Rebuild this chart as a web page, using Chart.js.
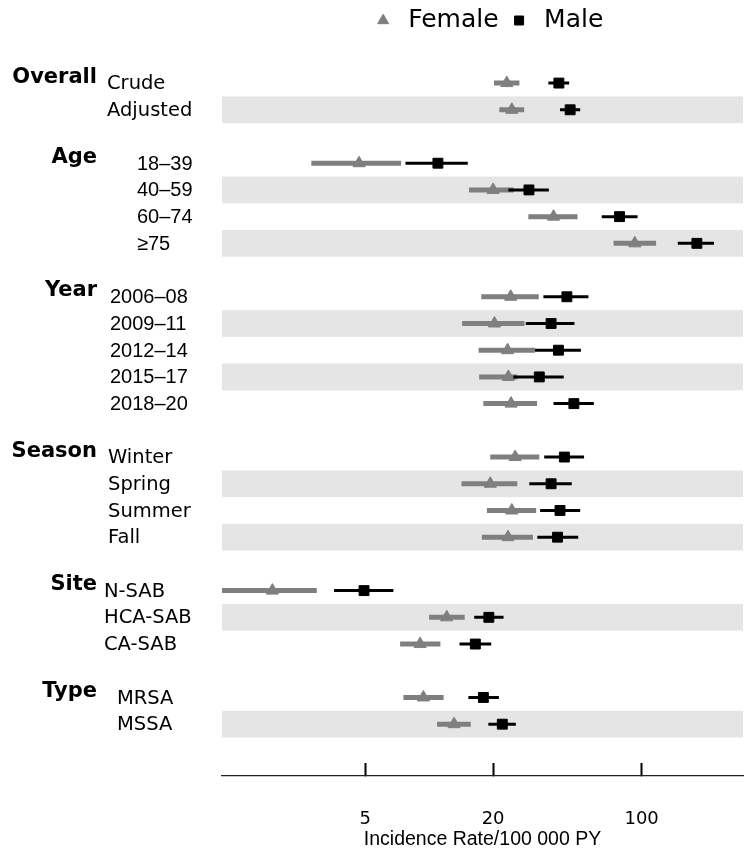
<!DOCTYPE html>
<html>
<head>
<meta charset="utf-8">
<script src="https://cdn.jsdelivr.net/npm/chart.js@4.4.1/dist/chart.umd.min.js"></script>
<style>
  html, body { margin: 0; padding: 0; background: #fff; }
  #wrap { width: 755px; height: 856px; }
</style>
</head>
<body>
<div id="wrap"><canvas id="forestChart" width="755" height="856"></canvas></div>
<script>
// --- DATA ---
const groupNames = ['Overall', 'Age', 'Year', 'Season', 'Site', 'Type'];
const rowLabels = ['Crude', 'Adjusted',
    '18–39', '40–59', '60–74', '≥75',
    '2006–08', '2009–11', '2012–14', '2015–17', '2018–20',
    'Winter', 'Spring', 'Summer', 'Fall',
    'N-SAB', 'HCA-SAB', 'CA-SAB',
    'MRSA', 'MSSA'];
const rowGroups = [0, 0, 1, 1, 1, 1, 2, 2, 2, 2, 2, 3, 3, 3, 3, 4, 4, 4, 5, 5];

// Incidence rate per 100 000 PY
const femaleRate = [23.2, 24.5, 4.68, 20.0, 38.5, 92.9, 24.2, 20.3, 23.4, 23.6, 24.3, 25.4, 19.4, 24.5, 23.5, 1.83, 12.1, 9.07, 9.40, 13.1];
const femaleLow  = [20.2, 21.4, 2.79, 15.4, 29.3, 73.8, 17.6, 14.3, 17.1, 17.2, 18.0, 19.4, 14.2, 18.7, 17.7, 1.00, 10.0, 7.30, 7.57, 10.9];
const femaleHigh = [26.6, 28.0, 7.38, 25.0, 49.9, 117,  32.8, 28.1, 31.5, 26.0, 32.2, 33.0, 26.0, 31.9, 30.8, 2.96, 14.7, 11.3, 11.7, 15.7];

const maleRate = [40.8, 46.1, 11.0, 29.5, 78.7, 182, 44.5, 37.5, 40.6, 33.0, 48.0, 43.3, 37.5, 41.3, 40.2, 4.94, 19.1, 16.5, 18.0, 22.1];
const maleLow  = [36.4, 41.3, 7.74, 23.6, 64.9, 148, 34.5, 28.5, 31.5, 24.9, 38.5, 34.8, 29.6, 33.3, 32.3, 3.57, 16.3, 13.9, 15.3, 19.0];
const maleHigh = [45.6, 51.4, 15.2, 36.6, 95.7, 219, 56.2, 48.3, 51.8, 43.0, 59.6, 53.6, 46.9, 51.4, 50.3, 6.79, 22.4, 19.6, 21.3, 25.6];

const xTickValues = [5, 20, 100];

// --- STYLE ---
const GREY = '#7f7f7f';
const BAND = '#e5e5e5';
const groupLabelRight = 97;
const rowLabelLeft = [107, 137, 110, 108, 104, 117];
const rowLabelFont = ['DejaVu Sans', 'Liberation Sans', 'Liberation Sans', 'DejaVu Sans', 'DejaVu Sans', 'DejaVu Sans'];
const legendCenterX = 487;

// Zeilen-Position: ein leerer Platz vor jeder neuen Gruppe
const rowPos = rowGroups.map((g, i) => i + g);

function ciSegments(low, high) {
    const pts = [];
    low.forEach((lo, i) => {
        pts.push({ x: lo, y: rowPos[i] }, { x: high[i], y: rowPos[i] }, { x: null, y: null });
    });
    return pts;
}

function markerPoints(rate) {
    return rate.map((v, i) => ({ x: v, y: rowPos[i] }));
}

// graue Bänder auf jeder zweiten Zeile innerhalb einer Gruppe
function isBandRow(i) {
    const first = rowGroups.indexOf(rowGroups[i]);
    return (i - first) % 2 === 1;
}

const rowDecor = {
    id: 'rowDecor',
    beforeDatasetsDraw(chart) {
        const { ctx, chartArea } = chart;
        const y = chart.scales.y;
        ctx.save();
        ctx.fillStyle = BAND;
        rowLabels.forEach((_, i) => {
            if (!isBandRow(i)) return;
            const top = y.getPixelForValue(rowPos[i] - 0.5);
            const bottom = y.getPixelForValue(rowPos[i] + 0.5);
            ctx.fillRect(chartArea.left, top, chartArea.right - chartArea.left, bottom - top);
        });
        ctx.restore();
    },
    afterDraw(chart) {
        const { ctx } = chart;
        const y = chart.scales.y;
        ctx.save();
        ctx.fillStyle = '#000';
        ctx.textBaseline = 'middle';
        // Zeilenbeschriftungen
        ctx.textAlign = 'left';
        rowLabels.forEach((label, i) => {
            const g = rowGroups[i];
            ctx.font = (rowLabelFont[g] === 'Liberation Sans' ? '20px ' : '19.5px ') + '"' + rowLabelFont[g] + '"';
            ctx.fillText(label, rowLabelLeft[g], y.getPixelForValue(rowPos[i]) + 1);
        });
        // Gruppennamen (fett)
        ctx.textAlign = 'right';
        ctx.font = 'bold 21px "DejaVu Sans"';
        groupNames.forEach((name, g) => {
            const first = rowGroups.indexOf(g);
            ctx.fillText(name, groupLabelRight, y.getPixelForValue(rowPos[first]) - 6);
        });
        ctx.restore();
    }
};

const legendShift = {
    id: 'legendShift',
    afterLayout(chart) {
        const lg = chart.legend;
        if (!lg) return;
        const dx = legendCenterX - (lg.left + lg.right) / 2;
        lg.left += dx;
        lg.right += dx;
    }
};

const ctx = document.getElementById('forestChart').getContext('2d');
new Chart(ctx, {
    type: 'scatter',
    data: {
        datasets: [
            { type: 'line', label: '', data: ciSegments(femaleLow, femaleHigh), borderColor: GREY, borderWidth: 5,
              pointRadius: 0, spanGaps: false, borderCapStyle: 'butt', fill: false, order: 3, clip: 0 },
            { label: 'Female', data: markerPoints(femaleRate), pointStyle: 'triangle', pointRadius: 7,
              backgroundColor: GREY, borderColor: GREY, borderWidth: 1, order: 2 },
            { type: 'line', label: '', data: ciSegments(maleLow, maleHigh), borderColor: '#000', borderWidth: 3,
              pointRadius: 0, spanGaps: false, borderCapStyle: 'butt', fill: false, order: 1, clip: 0 },
            { label: 'Male', data: markerPoints(maleRate), pointStyle: 'rect', pointRadius: 7,
              backgroundColor: '#000', borderColor: '#000', borderWidth: 1, order: 0 }
        ]
    },
    options: {
        responsive: false,
        animation: false,
        devicePixelRatio: 1,
        layout: { padding: { left: 222, right: 12, top: 0, bottom: 0 } },
        plugins: {
            tooltip: { enabled: false },
            legend: {
                position: 'top',
                labels: {
                    usePointStyle: true,
                    boxHeight: 9,
                    boxWidth: 25,
                    padding: 8,
                    color: '#000',
                    font: { family: '"DejaVu Sans"', size: 25 },
                    filter: item => item.text !== '',
                    sort: (a, b) => a.datasetIndex - b.datasetIndex
                }
            }
        },
        scales: {
            x: {
                type: 'logarithmic',
                position: 'bottom',
                min: 1.06,
                max: 300,
                afterBuildTicks: scale => { scale.ticks = xTickValues.map(v => ({ value: v })); },
                afterFit: scale => { scale.height = 80; },
                ticks: {
                    autoSkip: false,
                    maxRotation: 0,
                    padding: 46,
                    color: '#000',
                    font: { family: '"DejaVu Sans"', size: 18 },
                    callback: v => String(v)
                },
                grid: { drawOnChartArea: false, drawTicks: true, tickLength: -13, tickWidth: 2, tickColor: '#000' },
                border: { display: true, color: '#222', width: 1.3 },
                title: {
                    display: true,
                    text: 'Incidence Rate/100 000 PY',
                    color: '#000',
                    font: { family: '"Liberation Sans"', size: 19.5 },
                    padding: { top: 0, bottom: 5 }
                }
            },
            y: {
                type: 'linear',
                display: false,
                reverse: true,
                min: -1.5,
                max: 25.94
            }
        }
    },
    plugins: [rowDecor, legendShift]
});
</script>
</body>
</html>
